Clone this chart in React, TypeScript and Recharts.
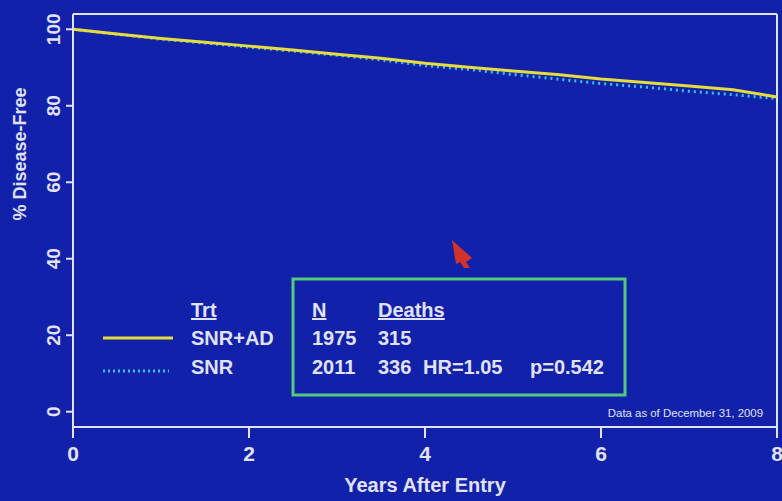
import React from 'react';
import { LineChart, Line, XAxis, YAxis, ReferenceLine, Customized } from 'recharts';

// Years after entry at which the survival estimates are read
const years = [0, 0.5, 1, 1.5, 2, 2.5, 3, 3.5, 4, 4.5, 5, 5.5, 6, 6.5, 7, 7.5, 8];
// % disease-free, SNR + AD arm
const snrAd = [100, 98.8, 97.6, 96.6, 95.6, 94.6, 93.5, 92.4, 91.1, 90.1, 89.1, 88.2, 87.0, 86.1, 85.2, 84.2, 82.3];
// % disease-free, SNR arm
const snr = [100, 98.7, 97.4, 96.4, 95.3, 94.3, 93.2, 92.0, 90.5, 89.5, 88.2, 87.0, 85.8, 84.9, 83.8, 82.9, 81.9];

const xTicks = [0, 2, 4, 6, 8];
const yTicks = [0, 20, 40, 60, 80, 100];

const trtNames = ['SNR+AD', 'SNR'];
const nValues = [1975, 2011];
const deaths = [315, 336];
const hrText = 'HR=1.05';
const pText = 'p=0.542';
const dataNote = 'Data as of December 31, 2009';

const data = years.map((t, i) => ({ t, snrAd: snrAd[i], snr: snr[i] }));

const BG = '#1121a9';
const FG = '#e2e2f6';
const YELLOW = '#e6dc3c';
const CYAN = '#35c2f2';
const FONT = '"Liberation Sans", Arial, sans-serif';

const YTick = (props: any) => {
  const { x, y, payload } = props;
  const cx = x - 4;
  return (
    <text
      x={cx}
      y={y}
      transform={`rotate(-90, ${cx}, ${y})`}
      textAnchor="middle"
      fill={FG}
      fontSize={19}
      fontWeight="bold"
      fontFamily={FONT}
    >
      {payload.value}
    </text>
  );
};

const XTick = (props: any) => {
  const { x, y, payload } = props;
  return (
    <text x={x} y={y + 21} textAnchor="middle" fill={FG} fontSize={21} fontWeight="bold" fontFamily={FONT}>
      {payload.value}
    </text>
  );
};

const Overlay = () => {
  const col = { fill: FG, fontSize: 20, fontWeight: 'bold' as const, fontFamily: FONT };
  return (
    <g>
      {/* legend swatches */}
      <line x1={103} y1={338} x2={173} y2={338} stroke={YELLOW} strokeWidth={3} />
      <line x1={103} y1={371} x2={169} y2={371} stroke={CYAN} strokeWidth={3} strokeDasharray="2 3" />
      <text x={191} y={317} {...col} textDecoration="underline">Trt</text>
      <text x={191} y={345} {...col}>{trtNames[0]}</text>
      <text x={191} y={374} {...col}>{trtNames[1]}</text>
      {/* statistics box */}
      <rect x={293} y={279} width={332} height={116} fill="none" stroke="#56c97c" strokeWidth={3} />
      <text x={312} y={317} {...col} textDecoration="underline">N</text>
      <text x={378} y={317} {...col} textDecoration="underline">Deaths</text>
      <text x={312} y={345} {...col}>{nValues[0]}</text>
      <text x={378} y={345} {...col}>{deaths[0]}</text>
      <text x={312} y={374} {...col}>{nValues[1]}</text>
      <text x={378} y={374} {...col}>{deaths[1]}</text>
      <text x={423} y={374} {...col}>{hrText}</text>
      <text x={530} y={374} {...col}>{pText}</text>
      <text x={763} y={417} fill={FG} fontSize={11.4} fontFamily={FONT} textAnchor="end">{dataNote}</text>
      {/* pointer */}
      <polygon points="452,240 472,258 466,262 470,268 464,268 460,262 456,264" fill="#e8341c" opacity={0.9} />
    </g>
  );
};

export default function App() {
  return (
    <div style={{ position: 'fixed', left: 0, top: 0, width: 782, height: 501, background: BG }}>
      <LineChart width={782} height={501} data={data} margin={{ top: 14, right: 5, left: 0, bottom: 0 }}>
        <XAxis
          dataKey="t"
          type="number"
          domain={[0, 8]}
          ticks={xTicks}
          stroke={FG}
          strokeWidth={2}
          tickSize={11}
          height={74}
          tick={<XTick />}
          label={{ value: 'Years After Entry', position: 'insideBottom', offset: 9, fill: FG, fontSize: 20, fontWeight: 'bold', fontFamily: FONT }}
        />
        <YAxis
          type="number"
          domain={[-4, 104]}
          ticks={yTicks}
          stroke={FG}
          strokeWidth={2}
          tickSize={7}
          width={73}
          tick={<YTick />}
          label={{ value: '% Disease-Free', angle: -90, position: 'insideLeft', offset: 20, fill: FG, fontSize: 18, fontWeight: 'bold', fontFamily: FONT }}
        />
        <ReferenceLine y={104} stroke={FG} strokeWidth={2} />
        <ReferenceLine x={8} stroke={FG} strokeWidth={2} />
        <Line dataKey="snr" stroke={CYAN} strokeWidth={3} strokeDasharray="2 4" dot={false} isAnimationActive={false} />
        <Line dataKey="snrAd" stroke={YELLOW} strokeWidth={3} dot={false} isAnimationActive={false} />
        <Customized component={Overlay} />
      </LineChart>
    </div>
  );
}
